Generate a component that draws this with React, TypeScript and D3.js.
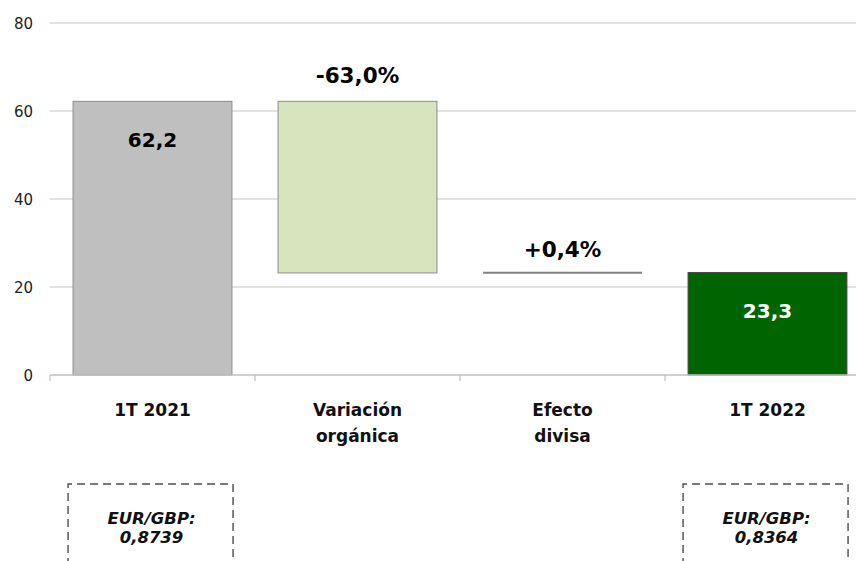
import React from "react";
import * as d3 from "d3";

const categories = ["1T 2021", "Variación orgánica", "Efecto divisa", "1T 2022"];
const categoryLines = [["1T 2021"], ["Variación", "orgánica"], ["Efecto", "divisa"], ["1T 2022"]];
const startValues = [0, 62.2, 23.2, 0];
const endValues = [62.2, 23.2, 23.3, 23.3];
const valueLabels = ["62,2", "-63,0%", "+0,4%", "23,3"];
const yTicks = [0, 20, 40, 60, 80];
const fxLabels = [
  { cat: "1T 2021", lines: ["EUR/GBP:", "0,8739"] },
  { cat: "1T 2022", lines: ["EUR/GBP:", "0,8364"] },
];

const W = 856;
const H = 561;
const FONT = "'DejaVu Sans', Verdana, sans-serif";

export default function App() {
  const x = d3.scaleBand<string>().domain(categories).range([50, 870]).paddingInner(0.225).paddingOuter(0.1125);
  const band = d3.scaleBand<string>().domain(categories).range([50, 870]).padding(0);
  const y = d3.scaleLinear().domain([0, 80]).range([375, 23]);
  const fills = ["#BFBFBF", "#D7E4BD", "none", "#006400"];
  const strokes = ["#8C8C8C", "#8C8C8C", "none", "#4A4A4A"];

  return (
    <div style={{ position: "absolute", left: 0, top: 0 }}>
      <svg width={W} height={H} style={{ display: "block" }} fontFamily={FONT}>
        <rect x={0} y={0} width={W} height={H} fill="#fff" />
        {yTicks.filter((t) => t > 0).map((t) => (
          <line key={t} x1={50} x2={W} y1={y(t)} y2={y(t)} stroke="#D9D9D9" strokeWidth={1.5} />
        ))}
        {yTicks.map((t) => (
          <text key={"l" + t} x={33} y={y(t) + 5.5} textAnchor="end" fontSize={15} fill="#222">
            {t}
          </text>
        ))}
        {categories.map((c, i) => {
          const x0 = x(c)!;
          const bw = x.bandwidth();
          const top = y(Math.max(startValues[i], endValues[i]));
          const bot = y(Math.min(startValues[i], endValues[i]));
          if (i === 2) {
            return (
              <line key={c} x1={x0} x2={x0 + bw} y1={(top + bot) / 2} y2={(top + bot) / 2} stroke="#808080" strokeWidth={2} />
            );
          }
          return (
            <rect key={c} x={x0} y={top} width={bw} height={bot - top} fill={fills[i]} stroke={strokes[i]} strokeWidth={1} />
          );
        })}
        <line x1={50} x2={W} y1={y(0)} y2={y(0)} stroke="#BFBFBF" strokeWidth={1.5} />
        {categories.map((c) => (
          <line key={"t" + c} x1={band(c)!} x2={band(c)!} y1={y(0)} y2={y(0) + 6} stroke="#BFBFBF" strokeWidth={1.2} />
        ))}
        {categories.map((c, i) => {
          const cx = x(c)! + x.bandwidth() / 2;
          const hi = y(Math.max(startValues[i], endValues[i]));
          let ty = hi + 46;
          let fill = "#000";
          let fs = 20;
          if (i === 1) { ty = hi - 18; fs = 21.5; }
          if (i === 2) { ty = hi - 15; fs = 21.5; }
          if (i === 3) { ty = hi + 46; fill = "#fff"; }
          return (
            <text key={"v" + c} x={cx} y={ty} textAnchor="middle" fontSize={fs} fontWeight="bold" fill={fill}>
              {valueLabels[i]}
            </text>
          );
        })}
        {categories.map((c, i) => {
          const cx = x(c)! + x.bandwidth() / 2;
          return (
            <text key={"c" + c} x={cx} y={416} textAnchor="middle" fontSize={17} fontWeight="bold" fill="#111">
              {categoryLines[i].map((ln, j) => (
                <tspan key={j} x={cx} dy={j === 0 ? 0 : 26}>{ln}</tspan>
              ))}
            </text>
          );
        })}
        {fxLabels.map((f) => {
          const x0 = x(f.cat)! - 5;
          const cx = x(f.cat)! + x.bandwidth() / 2;
          return (
            <g key={f.cat}>
              <path
                d={`M${x0},${H + 5} V484 H${x0 + 165} V${H + 5}`}
                fill="none"
                stroke="#4D4D4D"
                strokeWidth={1.4}
                strokeDasharray="8,5"
              />
              <text x={cx - 1} y={524} textAnchor="middle" fontSize={16.5} fontWeight="bold" fontStyle="italic" fill="#111">
                {f.lines.map((ln, j) => (
                  <tspan key={j} x={cx - 1} dy={j === 0 ? 0 : 19}>{ln}</tspan>
                ))}
              </text>
            </g>
          );
        })}
      </svg>
    </div>
  );
}
